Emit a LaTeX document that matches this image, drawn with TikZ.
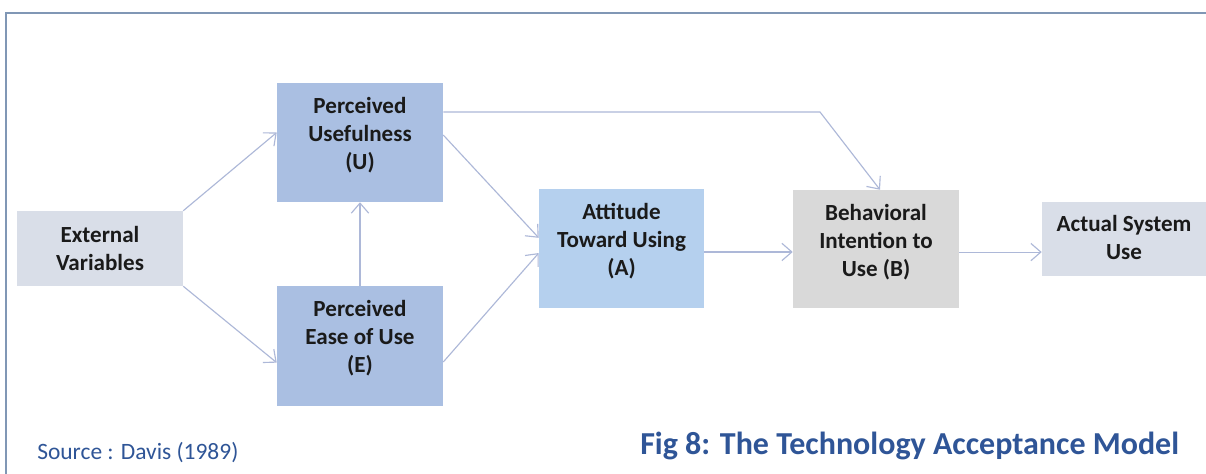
\documentclass[tikz,border=0pt]{standalone}
\usepackage{fontspec}
\setmainfont{Carlito}
\usetikzlibrary{arrows.meta,calc}
\definecolor{frameC}{HTML}{8097B5}
\definecolor{lineC}{HTML}{ADB8D8}
\definecolor{evC}{HTML}{D9DEE8}
\definecolor{puC}{HTML}{AABFE2}
\definecolor{atC}{HTML}{B5D0EE}
\definecolor{biC}{HTML}{D9D9D9}
\definecolor{capC}{HTML}{2F5597}
\definecolor{txtC}{HTML}{1A1A1A}
\tikzset{
  boxbg/.style={rectangle, inner sep=0pt},
  boxtxt/.style={inner sep=0pt, align=center, text=txtC,
    font=\fontsize{17.3pt}{21pt}\selectfont\bfseries},
  conn/.style={draw=lineC, line width=0.85pt,
    -{Straight Barb[length=7.5pt,width=13pt,line width=0.85pt]}},
}
\begin{document}
\begin{tikzpicture}[x=0.75pt,y=-0.75pt]
\useasboundingbox (0,0) rectangle (1206,474);
\fill[white] (0,0) rectangle (1206,474);
\draw[frameC, line width=1.6pt] (6,474) -- (6,13) -- (1206,13);

\node[boxbg, fill=evC, minimum width=166*0.75pt, minimum height=75*0.75pt] (ev) at (100,248.5) {};
\node[boxtxt] (ev-t) at (ev.center) {External\\Variables};
\node[boxbg, fill=puC, minimum width=166*0.75pt, minimum height=119*0.75pt] (pu) at (360,142.5) {};
\node[boxtxt] (pu-t) at ([yshift=5.3pt]pu.center) {Perceived\\Usefulness\\(U)};
\node[boxbg, fill=puC, minimum width=166*0.75pt, minimum height=120*0.75pt] (pe) at (360,346) {};
\node[boxtxt] (pe-t) at ([yshift=5.8pt]pe.center) {Perceived\\Ease of Use\\(E)};
\node[boxbg, fill=atC, minimum width=165*0.75pt, minimum height=119*0.75pt] (at) at (621.5,248.5) {};
\node[boxtxt] (at-t) at ([yshift=5.3pt]at.center) {Attitude\\Toward Using\\(A)};
\node[boxbg, fill=biC, minimum width=166*0.75pt, minimum height=118*0.75pt] (bi) at (876,249) {};
\node[boxtxt] (bi-t) at ([yshift=5.3pt]bi.center) {Behavioral\\Intention to\\Use (B)};
\node[boxbg, fill=evC, minimum width=164*0.75pt, minimum height=74*0.75pt] (asu) at (1124,239) {};
\node[boxtxt] (asu-t) at ([yshift=0.8pt]asu.center) {Actual System\\Use};

\coordinate (bend) at (820,112);

\draw[conn] (ev.north east) -- ([yshift=7.5pt]pu.west);
\draw[conn] (ev.south east) -- ([yshift=-12.5pt]pe.west);
\draw[conn] (pe.north) -- (pu.south);
\draw[conn] ([yshift=5.6pt]pu.east) -- ([yshift=8pt]at.west);
\draw[conn] ([yshift=-12pt]pe.east) -- ([yshift=-3.4pt]at.west);
\draw[conn] ([yshift=22.9pt]pu.east) -- (bend) -- ([xshift=3pt]bi.north);
\draw[conn] ([yshift=-2.6pt]at.east) -- ([yshift=-2.6pt]at.east -| bi.west);
\draw[conn] ([yshift=-2.3pt]bi.east) -- ([yshift=-2.3pt]bi.east -| asu.west);

\node[anchor=base west, text=capC, font=\fontsize{17.6pt}{20pt}\selectfont, inner sep=0pt] (src) at (37,459) {Source : Davis (1989)};
\node[anchor=base west, text=capC, font=\fontsize{24pt}{28pt}\selectfont\bfseries, inner sep=0pt] (fig) at (640,454) {Fig 8: The Technology Acceptance Model};
\end{tikzpicture}
\end{document}
